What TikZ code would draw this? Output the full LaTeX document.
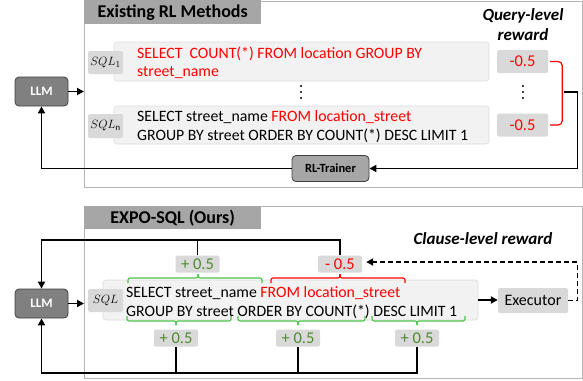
\documentclass[tikz,border=0pt]{standalone}
\usepackage{fontspec}
\setmainfont{Carlito}
\usetikzlibrary{arrows.meta}
\definecolor{panelgray}{HTML}{B4B4B4}
\definecolor{tabgray}{HTML}{A6A6A6}
\definecolor{labgray}{HTML}{D9D9D9}
\definecolor{boxfill}{HTML}{F2F2F2}
\definecolor{boxline}{HTML}{DCDCDC}
\definecolor{llmfill}{HTML}{808080}
\definecolor{darkline}{HTML}{404040}
\definecolor{gtext}{HTML}{4E8A2E}
\definecolor{gbrace}{HTML}{4CC34C}
\definecolor{myred}{HTML}{FF0000}
\tikzset{
  panel/.style={draw=panelgray, line width=1.2pt, inner sep=0pt, anchor=north west},
  tabbox/.style={fill=tabgray, inner sep=0pt, font=\fontsize{18}{20}\selectfont\bfseries},
  sqlbox/.style={fill=boxfill, draw=boxline, line width=0.6pt, rounded corners=3pt, inner sep=0pt},
  labbox/.style={fill=labgray, inner sep=0pt, rounded corners=1.5pt},
  sqllab/.style={labbox, minimum width=35pt, font=\fontsize{12.5}{13}\selectfont},
  rewlab/.style={labbox, minimum width=44pt, minimum height=17pt, font=\fontsize{16.5}{17}\selectfont},
  llmbox/.style={fill=llmfill, draw=darkline, line width=0.8pt, rounded corners=4pt, inner sep=0pt,
     minimum width=53pt, minimum height=29pt, text=white, font=\fontsize{13}{14}\selectfont\bfseries},
  trainer/.style={fill=tabgray, draw=darkline, line width=0.8pt, rounded corners=4pt, inner sep=0pt,
     minimum width=77pt, minimum height=26pt, font=\fontsize{12.5}{13}\selectfont\bfseries},
  sqltext/.style={anchor=base west, inner sep=0pt, font=\fontsize{15.8}{18}\selectfont},
  conn/.style={line width=1.9pt, -{Triangle[length=7pt,width=7pt]}},
  plain/.style={line width=1.9pt},
  bracestyle/.style={line width=1.1pt, rounded corners=2pt},
  titletext/.style={font=\fontsize{17}{21}\selectfont\bfseries\itshape, align=center}
}
\newcommand{\bracetipup}[5]{%
  \draw[#1, bracestyle] (#2,#5+5) |- (#3,#5) -- (#3,#5-4);
  \draw[#1, bracestyle] (#3,#5-4) -- (#3,#5) -| (#4,#5+5);}
\newcommand{\bracetipdown}[5]{%
  \draw[#1, bracestyle] (#2,#5-5) |- (#3,#5) -- (#3,#5+4);
  \draw[#1, bracestyle] (#3,#5+4) -- (#3,#5) -| (#4,#5-5);}
\begin{document}
\begin{tikzpicture}[x=1pt,y=-1pt]
\path[use as bounding box, fill=white] (0,0) rectangle (583,380);

% ---------------- top panel ----------------
\node[panel, minimum width=498pt, minimum height=186pt] (toppanel) at (84,0.6) {};
\node[tabbox, minimum width=177pt, minimum height=24pt, anchor=north west] (toptab) at (84,0) {Existing RL Methods};

\node[sqlbox, minimum width=375pt, minimum height=39pt] (sqlA) at (301.5,61.5) {};
\node[sqlbox, minimum width=375pt, minimum height=38pt] (sqlB) at (301.5,125) {};
\node[sqllab, minimum height=23pt] (labA) at (105.5,62.5) {$SQL_1$};
\node[sqllab, minimum height=24pt] (labB) at (105.5,126) {$SQL_{\mathrm{n}}$};

\node[sqltext] (tA1) at (137,58.3) {\textcolor{myred}{SELECT\ \ COUNT(*) FROM location GROUP BY}};
\node[sqltext] (tA2) at (137,76.8) {\textcolor{myred}{street\_name}};
\node[sqltext] (tB1) at (137,121) {SELECT street\_name \textcolor{myred}{FROM location\_street}};
\node[sqltext] (tB2) at (137,140) {GROUP BY street ORDER BY COUNT(*) DESC LIMIT 1};

\foreach \yy in {86,92,98} {
  \fill (301,\yy) circle (1.2pt);
  \fill (523,\yy) circle (1.2pt);
}

\node[titletext] (qtitle) at (523,25) {Query-level\\[-1pt]reward};

\node[rewlab, minimum width=51pt, minimum height=23pt, text=myred] (rA) at (522.5,61.5) {-0.5};
\node[rewlab, minimum width=51pt, minimum height=23pt, text=myred] (rB) at (522.5,125) {-0.5};

\draw[myred, line width=1.2pt, rounded corners=4pt] ([xshift=2pt]rA.east) -- ++(12,0) |- ([xshift=2pt]rB.east);
\coordinate (brtip) at (563.5,92);

\node[llmbox] (llm1) at (41.5,91.5) {LLM};
\node[trainer] (rl) at (330.5,168.5) {RL-Trainer};

\draw[conn] (llm1.east) -- (llm1.east -| toppanel.west);
\draw[conn] (brtip) -- (577.5,92) |- (rl.east);
\draw[conn] (rl.west) -| (llm1.south);

% ---------------- bottom panel ----------------
\node[panel, minimum width=498pt, minimum height=172pt] (botpanel) at (84,206) {};
\node[tabbox, minimum width=177pt, minimum height=23pt, anchor=north west] (bottab) at (84,206) {EXPO-SQL (Ours)};

\node[sqlbox, minimum width=375pt, minimum height=40pt] (sqlC) at (290.5,300) {};
\node[sqllab, minimum height=23pt] (labC) at (105.5,300.5) {$SQL$};
\node[sqltext] (tC1) at (126,297.5) {SELECT street\_name \textcolor{myred}{FROM location\_street}};
\node[sqltext] (tC2) at (126,316) {GROUP BY street ORDER BY COUNT(*) DESC LIMIT 1};

\bracetipup{gbrace}{128}{198}{262}{278}
\bracetipup{myred}{271}{340}{405}{278}
\bracetipdown{gbrace}{127}{176}{231}{321}
\bracetipdown{gbrace}{238}{298}{365}{321}
\bracetipdown{gbrace}{372}{417}{465}{321}

\node[rewlab, text=gtext] (pA) at (197.5,264) {+ 0.5};
\node[rewlab, text=myred] (nA) at (340,264) {- 0.5};
\node[rewlab, text=gtext] (pB) at (176,338) {+ 0.5};
\node[rewlab, text=gtext] (pC) at (298,338) {+ 0.5};
\node[rewlab, text=gtext] (pD) at (417,338) {+ 0.5};

\node[labbox, minimum width=70pt, minimum height=25pt, font=\fontsize{16}{17}\selectfont] (exe) at (533,300.5) {Executor};
\node[titletext] (ctitle) at (483,239) {Clause-level reward};

\node[llmbox] (llm2) at (41.5,303.5) {LLM};

\draw[conn] (llm2.east) -- (llm2.east -| botpanel.west);
\draw[conn] (sqlC.east) -- (sqlC.east -| exe.west);
\draw[conn, dash pattern=on 5pt off 3pt] (exe.east) -- (577.5,300.5) |- ([xshift=4pt,yshift=2pt]nA.east);

\draw[conn] (nA.north) -- (340,240) -| (llm2.north);
\draw[plain] (pA.north) -- (pA.north |- 0,240);

\draw[conn] (pD.south) -- (417,373) -| (llm2.south);
\draw[plain] (pB.south) -- (pB.south |- 0,373);
\draw[plain] (pC.south) -- (pC.south |- 0,373);
\end{tikzpicture}
\end{document}
